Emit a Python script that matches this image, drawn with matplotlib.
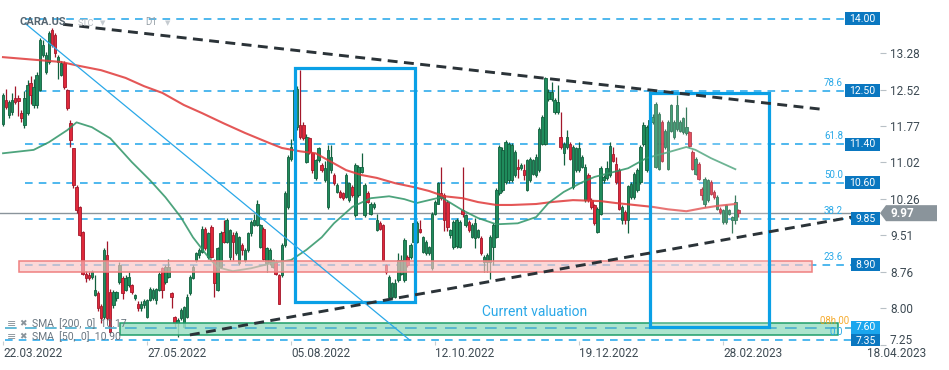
import matplotlib
matplotlib.use("Agg")
import matplotlib.pyplot as plt
import matplotlib.transforms as mtransforms
from matplotlib.patches import Rectangle, Polygon

plt.rcParams['font.family'] = ['Roboto', 'DejaVu Sans']

# ---------------- data (daily candles, CARA.US) ----------------
opens = [
    11.81, 12.31, 12.00, 12.06, 12.35, 12.36, 12.04, 11.79, 12.04, 12.66,
    12.21, 12.21, 12.52, 13.24, 12.90, 13.10, 13.76, 13.65, 13.10, 12.83,
    13.07, 12.52, 11.83, 11.31, 10.52, 10.10, 9.58, 8.72, 8.70, 8.65,
    8.27, 8.31, 8.05, 7.82, 9.10, 8.34, 8.07, 8.21, 8.55, 8.62,
    8.38, 8.48, 8.48, 8.21, 8.10, 8.00, 8.07,
    7.82, 8.17, 8.21, 8.17, 8.38, 8.83, 8.55, 8.65, 8.31, 7.82,
    7.69, 7.79, 7.62, 7.82, 8.31, 8.62, 9.00, 9.10, 9.17, 9.65,
    9.07, 9.69, 9.00, 8.38, 8.86, 9.58, 9.38, 9.07, 9.52, 9.14,
    8.93, 9.31, 9.00, 9.21, 9.55, 9.72, 9.72, 9.27, 9.65, 8.93,
    8.96, 8.86, 8.96, 8.69, 8.69, 9.31, 10.10, 11.10,
    11.48, 11.76, 11.79, 11.79, 11.03, 11.52, 11.21, 10.69, 11.07, 10.96,
    10.66, 10.10, 10.86, 10.76, 10.41, 10.41, 10.38, 10.31, 10.24, 10.52,
    9.93, 10.34, 10.83, 9.93, 10.38, 9.96, 10.10, 9.62, 9.76, 9.72,
    8.89, 8.24, 8.24, 8.24, 8.58, 8.72, 8.58, 9.07, 9.07, 9.38,
    9.38, 9.65, 9.17, 9.14, 9.14, 8.83, 9.96, 10.17, 10.38, 10.34,
    10.20, 9.51, 9.27, 9.30, 9.27, 10.03, 9.72, 9.79, 9.48, 9.45,
    9.48, 9.45, 8.96, 8.96, 8.96, 9.27, 9.48, 10.38, 10.45, 10.62,
    10.65, 10.66, 10.76, 10.93, 10.90, 10.86, 10.45, 10.66, 10.79, 10.76,
    10.86, 11.41, 11.41, 12.34, 12.34, 12.07, 12.07, 11.55, 11.21, 11.34,
    11.41, 10.52, 10.86, 10.86, 10.93, 10.24, 10.76, 10.24, 10.14,
    9.58, 9.96, 10.65, 10.69, 10.75, 11.19, 10.99, 10.86, 9.82, 9.99,
    9.82, 10.30, 10.30, 10.44, 10.62, 11.41, 10.86, 11.30, 11.86, 10.93,
    10.89, 11.86, 11.34, 10.89, 11.68, 11.55, 11.72, 11.68, 11.65, 11.62,
    11.65, 11.24, 10.79, 10.99, 10.48, 10.17, 10.24, 10.62, 10.41, 10.06,
    10.06, 9.79, 9.79, 9.96, 9.82, 9.82, 10.03,
]
highs = [
    12.45, 12.55, 12.32, 12.45, 12.60, 12.42, 12.10, 12.50, 12.72, 12.82,
    12.75, 12.90, 13.60, 13.55, 13.30, 13.75, 13.80, 13.70, 13.25, 13.12,
    13.12, 12.55, 11.90, 11.31, 10.55, 10.12, 9.60, 8.78, 8.76, 8.80,
    8.70, 8.35, 8.10, 9.25, 9.40, 8.40, 8.38, 8.36, 8.95, 8.66,
    8.70, 8.75, 8.50, 8.30, 8.15, 8.15, 8.20,
    8.20, 8.45, 8.42, 8.43, 8.76, 8.86, 8.90, 9.03, 8.33, 7.85,
    7.80, 8.00, 8.05, 8.30, 8.70, 8.90, 9.17, 9.25, 9.70, 9.68,
    9.58, 9.72, 9.03, 9.28, 9.60, 9.83, 9.86, 9.65, 9.58, 9.60,
    9.50, 9.35, 9.25, 9.58, 9.83, 9.96, 10.25, 9.75, 9.68, 9.28,
    9.24, 9.03, 9.00, 8.72, 9.35, 10.42, 11.17, 11.50,
    12.55, 12.60, 12.93, 11.85, 11.60, 11.55, 11.24, 11.10, 11.35, 11.00,
    11.05, 11.38, 11.38, 10.80, 10.60, 10.45, 10.40, 10.80, 10.62, 10.55,
    11.00, 10.96, 11.21, 10.60, 10.42, 10.20, 10.20, 9.96, 9.80, 9.75,
    8.92, 8.68, 8.55, 8.60, 9.14, 9.10, 9.45, 9.10, 9.35, 9.80,
    9.80, 9.83, 9.50, 9.42, 9.30, 10.00, 10.24, 10.62, 10.93, 10.38,
    10.25, 9.65, 9.83, 9.86, 9.83, 10.93, 9.96, 9.83, 9.76, 9.86,
    9.65, 9.50, 9.10, 9.14, 9.52, 9.76, 10.50, 11.38, 11.35, 11.48,
    11.45, 11.42, 11.28, 11.10, 11.00, 10.98, 11.10, 11.14, 11.10, 11.20,
    11.76, 12.00, 12.79, 12.55, 12.69, 12.35, 12.62, 12.07, 11.45, 11.69,
    11.45, 11.38, 11.35, 11.45, 11.17, 10.98, 10.80, 10.28, 10.17,
    10.10, 10.95, 10.76, 11.06, 11.44, 11.34, 11.13, 10.90, 10.14, 10.03,
    10.56, 10.62, 10.83, 10.90, 11.38, 11.86, 11.80, 11.95, 12.03, 12.27,
    12.07, 11.90, 11.72, 11.90, 12.24, 11.90, 12.41, 11.90, 11.96, 12.17,
    11.68, 11.27, 11.13, 11.03, 10.51, 10.72, 10.68, 10.65, 10.44, 10.34,
    10.10, 10.06, 10.17, 10.06, 9.92, 10.34, 10.06,
]
lows = [
    11.78, 12.12, 11.95, 12.00, 12.22, 11.98, 11.85, 11.74, 12.00, 12.22,
    12.15, 12.15, 12.50, 13.20, 12.85, 13.05, 13.40, 13.20, 12.75, 12.80,
    12.55, 12.10, 11.34, 10.50, 9.98, 9.50, 8.68, 8.55, 8.58, 8.60,
    8.25, 7.95, 7.70, 7.78, 7.75, 7.48, 8.00, 8.15, 8.50, 8.20,
    8.35, 8.44, 8.30, 8.18, 7.95, 7.95, 8.00,
    7.80, 8.15, 8.18, 8.10, 8.35, 8.21, 8.50, 8.62, 8.00, 7.62,
    7.41, 7.75, 7.60, 7.80, 8.28, 8.60, 8.95, 9.05, 9.15, 9.20,
    9.03, 9.05, 8.24, 8.35, 8.83, 9.35, 9.35, 9.00, 9.00, 9.10,
    8.90, 9.10, 8.96, 9.17, 9.50, 9.70, 9.70, 9.25, 9.00, 8.75,
    8.90, 8.83, 8.70, 8.08, 8.65, 9.28, 10.05, 11.05,
    11.45, 11.70, 11.50, 11.48, 11.00, 11.20, 10.80, 10.65, 11.03, 10.83,
    10.62, 10.05, 10.80, 10.55, 10.38, 10.28, 10.25, 10.28, 10.20, 10.30,
    9.90, 10.30, 10.80, 9.90, 10.18, 9.93, 10.05, 9.60, 9.62, 8.98,
    8.72, 8.22, 8.20, 8.22, 8.55, 8.70, 8.55, 8.85, 9.03, 8.95,
    9.35, 9.55, 9.14, 9.10, 9.10, 8.80, 9.93, 10.15, 10.25, 9.60,
    9.60, 9.45, 9.22, 9.25, 9.24, 9.90, 9.68, 9.58, 9.45, 9.24,
    9.45, 9.10, 8.75, 8.75, 8.60, 8.90, 9.45, 10.35, 10.40, 10.58,
    10.60, 10.62, 10.72, 10.70, 10.86, 10.65, 10.42, 10.62, 10.76, 10.72,
    10.83, 11.38, 11.38, 12.30, 12.30, 12.03, 12.03, 11.30, 10.97, 11.30,
    11.07, 10.48, 10.83, 10.83, 10.90, 10.20, 10.20, 10.05, 9.72,
    9.55, 9.93, 10.60, 10.65, 10.72, 11.03, 10.58, 10.03, 9.75, 9.75,
    9.55, 10.26, 10.26, 10.40, 10.58, 11.37, 10.82, 11.25, 11.82, 10.90,
    10.86, 11.03, 11.30, 10.86, 11.65, 11.50, 11.68, 11.65, 11.60, 11.58,
    11.34, 10.86, 10.75, 10.65, 10.24, 10.10, 10.20, 10.34, 10.27, 10.03,
    9.96, 9.75, 9.75, 9.93, 9.55, 9.75, 9.90,
]
closes = [
    12.41, 12.16, 12.27, 12.31, 12.27, 12.30, 11.94, 12.35, 12.62, 12.41,
    12.58, 12.83, 13.55, 13.45, 13.24, 13.69, 13.45, 13.28, 13.20, 13.07,
    12.59, 12.14, 11.48, 10.55, 10.03, 9.52, 8.72, 8.62, 8.63, 8.76,
    8.38, 8.00, 7.79, 9.20, 7.79, 7.51, 8.34, 8.34, 8.89, 8.31,
    8.62, 8.65, 8.34, 8.27, 8.00, 8.10, 8.16,
    8.17, 8.41, 8.38, 8.41, 8.72, 8.38, 8.86, 8.86, 8.24, 7.69,
    7.76, 7.96, 8.03, 8.24, 8.65, 8.86, 9.14, 9.21, 9.65, 9.24,
    9.55, 9.07, 8.52, 9.24, 9.55, 9.38, 9.83, 9.62, 9.38, 9.55,
    9.48, 9.21, 9.21, 9.55, 9.79, 9.83, 10.17, 9.72, 9.03, 9.24,
    9.21, 9.00, 8.72, 8.10, 9.31, 10.38, 11.14, 11.34,
    12.52, 12.55, 11.55, 11.52, 11.55, 11.24, 10.86, 11.07, 11.31, 10.86,
    10.90, 11.28, 11.14, 10.59, 10.55, 10.31, 10.28, 10.76, 10.59, 10.34,
    10.96, 10.93, 10.93, 10.55, 10.21, 10.17, 10.17, 9.83, 9.65, 9.00,
    8.76, 8.65, 8.52, 8.52, 9.00, 9.00, 9.42, 8.89, 9.31, 9.76,
    9.76, 9.58, 9.48, 9.38, 9.27, 9.96, 10.21, 10.59, 10.28, 9.83,
    9.69, 9.62, 9.79, 9.83, 9.79, 9.96, 9.93, 9.62, 9.72, 9.76,
    9.62, 9.14, 9.07, 9.10, 9.48, 9.72, 10.45, 11.34, 11.28, 11.45,
    11.41, 11.38, 11.24, 10.88, 10.96, 10.76, 11.07, 11.10, 11.07, 11.14,
    11.72, 11.97, 12.76, 12.48, 12.48, 12.31, 12.28, 11.34, 11.41, 11.55,
    11.10, 11.34, 11.31, 11.31, 11.14, 10.93, 10.24, 10.10, 9.76,
    10.06, 10.91, 10.72, 10.91, 11.37, 11.06, 10.62, 10.06, 10.10, 9.82,
    10.53, 10.58, 10.79, 10.86, 11.34, 11.79, 11.75, 11.90, 11.96, 12.24,
    12.03, 11.06, 11.68, 11.86, 12.20, 11.86, 12.20, 11.86, 11.93, 11.75,
    11.37, 10.89, 11.10, 10.68, 10.34, 10.68, 10.65, 10.37, 10.30, 10.30,
    9.99, 10.03, 10.13, 10.03, 9.89, 10.20, 9.97,
]
assert len(opens) == len(highs) == len(lows) == len(closes), (len(opens), len(highs), len(lows), len(closes))

# moving averages (bar index, value)
sma200_x = [0, 19, 24, 32, 40, 46, 52, 59, 65, 72, 79, 87, 91, 97, 102, 106, 112, 117, 122, 128,
            134, 139, 144, 150, 155, 161, 166, 174, 179, 186, 195, 200, 206, 212, 217, 223, 228, 233, 239]
sma200_y = [13.20, 13.10, 13.03, 12.93, 12.77, 12.60, 12.46, 12.21, 12.04, 11.83, 11.63, 11.42, 11.32, 11.25,
            11.21, 11.07, 10.86, 10.76, 10.70, 10.59, 10.51, 10.43, 10.32, 10.28, 10.20, 10.14, 10.14, 10.16,
            10.20, 10.24, 10.22, 10.18, 10.14, 10.10, 10.05, 10.01, 10.07, 10.12, 10.16]
sma50_x = [0, 10, 15, 21, 24, 29, 35, 42, 48, 53, 58, 62, 67, 70, 75, 81, 88, 94, 99, 104, 108, 114, 120,
           126, 131, 135, 139, 143, 150, 155, 161, 168, 174, 178, 183, 189, 193, 204, 210, 217, 223, 226, 231, 239]
sma50_y = [11.21, 11.28, 11.44, 11.69, 11.85, 11.75, 11.52, 11.03, 10.65, 10.30, 9.89, 9.47, 9.06, 8.85, 8.77,
           8.83, 8.94, 9.00, 9.21, 9.47, 9.76, 10.10, 10.28, 10.32, 10.26, 10.18, 10.24, 10.30, 10.03, 9.87,
           9.74, 9.76, 9.89, 10.18, 10.41, 10.61, 10.72, 10.90, 11.11, 11.23, 11.34, 11.28, 11.11, 10.88]

fib_levels = [14.00, 12.50, 11.40, 10.60, 9.85, 8.90, 7.35]
fib_ratios = ['', '78.6', '61.8', '50.0', '38.2', '23.6', '0.0']
fib_start = [7.2, 7.2, 7.2, 7.2, 7.2, 7.2, 0.7]
value_level = 7.60
last_price = 9.97
yticks = [13.28, 12.52, 11.77, 11.02, 10.26, 9.51, 8.76, 8.00, 7.25]
date_ticks = [0, 47, 94, 141, 188, 235, 282]
date_labels = ['22.03.2022', '27.05.2022', '05.08.2022', '12.10.2022', '19.12.2022', '28.02.2023', '18.04.2023']

# drawing annotations (bar index, price)
upper_trend = ([19.6, 267.3], [13.88, 12.12])
lower_trend = ([61.0, 277.1], [7.45, 9.89])
blue_diag = ([7.2, 132.8], [13.90, 7.34])
box1 = (95.3, 8.13, 134.5, 12.98)
box2 = (211.2, 7.61, 250.0, 12.46)
pink_zone = (5.2, 8.75, 264.0, 8.99)
green_zone = (38.2, 7.45, 272.5, 7.69)

# ---------------- figure ----------------
W, H = 949, 370
fig = plt.figure(figsize=(W / 100, H / 100), dpi=100)
AXR = 880
ax = fig.add_axes([0, 25 / H, AXR / W, 345 / H])
ax.set_xlim(-0.98, 286.2)
ax.set_ylim(7.241, 14.383)
for s in ax.spines.values():
    s.set_visible(False)
bt = mtransforms.blended_transform_factory(ax.transAxes, ax.transData)

# horizontal levels
for lvl, st in zip(fib_levels, fib_start):
    ax.plot([st, 276.8], [lvl, lvl], color='#1ea4ea', lw=1.1, ls=(0, (5, 4)), zorder=2)
ax.axhline(last_price, color='#8a949b', lw=1.0, zorder=2)

# candles
idx = list(range(len(opens)))
up = [c >= o for o, c in zip(opens, closes)]
body_bottom = [min(o, c) for o, c in zip(opens, closes)]
body_h = [max(abs(c - o), 0.025) for o, c in zip(opens, closes)]
face = ['#1f8c5c' if u else '#e0283a' for u in up]
edge = ['#12603e' if u else '#a3172a' for u in up]
ax.vlines(idx, lows, highs, colors=edge, lw=0.9, zorder=3)
ax.bar(idx, body_h, bottom=body_bottom, width=0.8, color=face, edgecolor=edge, linewidth=0.6, zorder=4)

# moving averages
ax.plot(sma200_x, sma200_y, color='#e03a3a', lw=1.5, alpha=0.85, zorder=5)
ax.plot(sma50_x, sma50_y, color='#2e9466', lw=1.3, alpha=0.85, zorder=5)

# zones
ax.add_patch(Rectangle((pink_zone[0], pink_zone[1]), pink_zone[2] - pink_zone[0], pink_zone[3] - pink_zone[1],
                       fc='#f9c4c4', ec='none', alpha=0.65, zorder=6))
ax.add_patch(Rectangle((pink_zone[0], pink_zone[1]), pink_zone[2] - pink_zone[0], pink_zone[3] - pink_zone[1],
                       fc='none', ec='#ef8080', lw=1.1, zorder=6))
ax.add_patch(Rectangle((green_zone[0], green_zone[1]), green_zone[2] - green_zone[0], green_zone[3] - green_zone[1],
                       fc='#9fe0c6', ec='none', alpha=0.85, zorder=6))
ax.add_patch(Rectangle((green_zone[0], green_zone[1]), green_zone[2] - green_zone[0], green_zone[3] - green_zone[1],
                       fc='none', ec='#1f9e6a', lw=1.1, zorder=6))
ax.plot([0.7, 276.8], [value_level, value_level], color='#4aaecf', lw=1.2, ls=(0, (7, 5)), zorder=6.5)

# highlight boxes
ax.add_patch(Rectangle((box2[0], box2[1]), box2[2] - box2[0], box2[3] - box2[1], fc='white', ec='none',
                       alpha=0.18, zorder=6))
for b in (box1, box2):
    ax.add_patch(Rectangle((b[0], b[1]), b[2] - b[0], b[3] - b[1], fc='none', ec='#0aa0e6', lw=2.3, zorder=7))

# trend lines
ax.plot(*blue_diag, color='#2aa8e8', lw=0.9, zorder=7)
ax.plot(*upper_trend, color='#2b3338', lw=2.1, ls=(0, (3.4, 2.2)), zorder=8)
ax.plot(*lower_trend, color='#2b3338', lw=2.1, ls=(0, (3.4, 2.2)), zorder=8)

ax.text(173.6, 7.92, 'Current valuation', color='#2aa8e8', fontsize=10, ha='center', va='center', zorder=9)

# fib ratio labels
for lvl, r in zip(fib_levels, fib_ratios):
    if r:
        ax.annotate(r, xy=(843 / AXR, lvl), xycoords=bt, xytext=(0, 2.0), textcoords='offset points',
                    ha='right', va='bottom', color='#29a9e8', fontsize=7, zorder=9)
ax.annotate('08h 00', xy=(820 / AXR, value_level), xycoords=bt, xytext=(0, 1.5), textcoords='offset points',
            color='#f5a31a', fontsize=7, ha='left', va='bottom', zorder=9, alpha=0.9)

# price boxes on the right
def price_box(level, txt, fc, left_px, dy_px=0.0):
    ax.add_patch(Rectangle((left_px / AXR, level - 0.135), (AXR - left_px) / AXR, 0.27, transform=bt,
                           fc=fc, ec='none', zorder=10, clip_on=False))
    ax.annotate(txt, xy=((left_px + AXR) / 2 / AXR, level), xycoords=bt, xytext=(0, -dy_px * 0.72),
                textcoords='offset points', ha='center', va='center',
                color='white', fontsize=7.5, zorder=11, annotation_clip=False)

for lvl in fib_levels:
    price_box(lvl, f'{lvl:.2f}', '#0a77c0', 845 if lvl >= 10.5 else 851, 1.5 if lvl < 7.5 else 0.0)
price_box(value_level, f'{value_level:.2f}', '#1aa6ee', 851, -0.5)

# last price tag
dy = 0.166
tag = Polygon([(1.0, last_price), (886 / AXR, last_price + dy), (937 / AXR, last_price + dy),
               (937 / AXR, last_price - dy), (886 / AXR, last_price - dy)], closed=True,
              transform=bt, fc='#8a949b', ec='none', clip_on=False, zorder=10)
ax.add_patch(tag)
ax.text(890 / AXR, last_price, f'{last_price:.2f}', transform=bt, ha='left', va='center', color='white',
        fontsize=8.5, fontweight='bold', zorder=11, clip_on=False)

# axes ticks
ax.yaxis.tick_right()
ax.set_yticks(yticks)
ax.set_yticklabels([f'{v:.2f}' for v in yticks])
ax.tick_params(axis='y', direction='out', length=4.5, width=0.8, color='#b8c0c6', pad=2.7,
               labelsize=8.5, labelcolor='#3d4a53')
ax.set_xticks(date_ticks)
ax.set_xticklabels(date_labels, ha='left')
ax.tick_params(axis='x', direction='in', length=3, width=0.8, color='#c8ced2', pad=1.5,
               labelsize=8.5, labelcolor='#3d4a53')
# the lowest price label sits raised above the date row, as in the platform
low_lab = ax.get_yticklabels()[-1]
low_lab.set_va('bottom')
low_lab.set_transform(low_lab.get_transform() + mtransforms.ScaledTranslation(0, -0.02, fig.dpi_scale_trans))

# header / legend texts
fig.text(20 / W, 1 - 22 / H, 'CARA.US', fontsize=8, fontweight='bold', color='#566570', va='center')
fig.text(78 / W, 1 - 23 / H, 'STC', fontsize=6.5, color='#b5bcc2', va='center')
fig.text(100 / W, 1 - 23 / H, '▼', fontsize=5, color='#c5cbd0', va='center', family=['DejaVu Sans'])
fig.text(145 / W, 1 - 22 / H, 'D1', fontsize=7, color='#9aa3aa', va='center')
fig.text(165 / W, 1 - 23 / H, '▼', fontsize=5, color='#c5cbd0', va='center', family=['DejaVu Sans'])

for ypx, txt in ((324, 'SMA  [200,  0]  10.17'), (337, 'SMA  [50,  0]  10.90')):
    fig.text(7 / W, 1 - ypx / H, '≡', fontsize=8, color='#8a949b', va='center', family=['DejaVu Sans'])
    fig.text(19 / W, 1 - ypx / H, '✖', fontsize=6.5, color='#8a949b', va='center', family=['DejaVu Sans'])
    fig.text(32 / W, 1 - ypx / H, txt, fontsize=7.5, color='#6a7680', va='center')

fig.savefig('out.png', dpi=100)
